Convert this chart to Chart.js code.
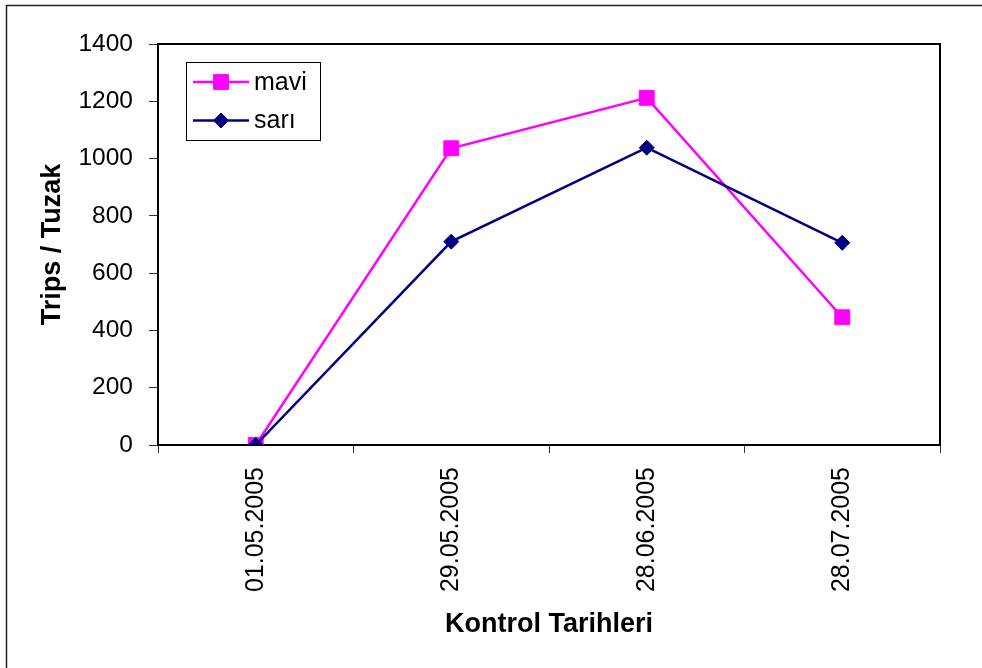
<!DOCTYPE html>
<html>
<head>
<meta charset="utf-8">
<script src="https://cdn.jsdelivr.net/npm/chart.js@4.4.0/dist/chart.umd.min.js"></script>
<style>
  html, body { margin: 0; padding: 0; background: #fff; }
  canvas { display: block; }
</style>
</head>
<body>
<canvas id="chart" width="982" height="668"></canvas>
<script>
// Trap counts per control date
const dates = ['01.05.2005', '29.05.2005', '28.06.2005', '28.07.2005'];
const maviValues = [0, 1036, 1212, 446];
const sariValues = [0, 710, 1038, 706];
const seriesNames = ['mavi', 'sarı'];
const yMin = 0;
const yMax = 1400;
const yStep = 200;

const FONT = "'Liberation Sans', Arial, sans-serif";

// Outer frame, plot box top/right edges and the legend box
const framePlugin = {
  id: 'frame',
  beforeDraw(chart) {
    const ctx = chart.ctx;
    ctx.save();
    ctx.fillStyle = '#fff';
    ctx.fillRect(0, 0, chart.width, chart.height);
    ctx.restore();
  },
  afterDraw(chart) {
    const ctx = chart.ctx;
    const a = chart.chartArea;
    ctx.save();
    // outer frame (top and left edges)
    ctx.strokeStyle = '#222';
    ctx.lineWidth = 1.5;
    ctx.beginPath();
    ctx.moveTo(6.5, chart.height);
    ctx.lineTo(6.5, 5.5);
    ctx.lineTo(chart.width, 5.5);
    ctx.stroke();
    // plot box top and right edges
    ctx.strokeStyle = '#000';
    ctx.lineWidth = 2;
    ctx.beginPath();
    ctx.moveTo(a.left, a.top);
    ctx.lineTo(a.right, a.top);
    ctx.lineTo(a.right, a.bottom);
    ctx.stroke();

    // legend
    const bx = 186.5, by = 62.5, bw = 134, bh = 78;
    ctx.lineWidth = 1;
    ctx.strokeStyle = '#000';
    ctx.fillStyle = '#fff';
    ctx.fillRect(bx, by, bw, bh);
    ctx.strokeRect(bx, by, bw, bh);
    chart.data.datasets.forEach((ds, i) => {
      const y = 82 + i * 38.5;
      ctx.strokeStyle = ds.borderColor;
      ctx.lineWidth = ds.borderWidth;
      ctx.beginPath();
      ctx.moveTo(193, y);
      ctx.lineTo(249, y);
      ctx.stroke();
      ctx.fillStyle = ds.pointBackgroundColor;
      ctx.strokeStyle = ds.pointBorderColor;
      ctx.lineWidth = ds.pointBorderWidth;
      Chart.helpers.drawPoint(ctx, {
        pointStyle: ds.pointStyle,
        radius: ds.pointRadius,
        borderWidth: ds.pointBorderWidth,
        rotation: 0
      }, 221, y);
      ctx.fillStyle = '#000';
      ctx.font = '25px ' + FONT;
      ctx.textBaseline = 'middle';
      ctx.textAlign = 'left';
      ctx.fillText(ds.label, 254, y + 1);
    });
    ctx.restore();
  }
};

new Chart(document.getElementById('chart'), {
  type: 'line',
  data: {
    labels: dates,
    datasets: [
      {
        label: seriesNames[0],
        data: maviValues,
        borderColor: '#FF00FF',
        backgroundColor: '#FF00FF',
        borderWidth: 2.5,
        pointStyle: 'rect',
        pointRadius: 10.5,
        pointBackgroundColor: '#FF00FF',
        pointBorderColor: '#FF00FF',
        pointBorderWidth: 1,
        tension: 0,
        order: 1
      },
      {
        label: seriesNames[1],
        data: sariValues,
        borderColor: '#000080',
        backgroundColor: '#000080',
        borderWidth: 2.5,
        pointStyle: 'rectRot',
        pointRadius: 7.5,
        pointBackgroundColor: '#000080',
        pointBorderColor: '#000080',
        pointBorderWidth: 1,
        tension: 0,
        order: 0
      }
    ]
  },
  options: {
    responsive: false,
    animation: false,
    devicePixelRatio: 1,
    layout: { padding: { left: 0, top: 44, right: 42, bottom: 0 } },
    plugins: {
      legend: { display: false },
      tooltip: { enabled: false }
    },
    scales: {
      x: {
        type: 'category',
        offset: true,
        afterFit(scale) { scale.height = 223; },
        grid: {
          offset: true,
          drawOnChartArea: false,
          drawTicks: true,
          tickLength: 8,
          color: '#333',
          lineWidth: 1
        },
        border: { display: true, color: '#000', width: 2 },
        ticks: {
          autoSkip: false,
          minRotation: 90,
          maxRotation: 90,
          padding: 14,
          color: '#000',
          font: { family: FONT, size: 25 }
        },
        title: {
          display: true,
          text: 'Kontrol Tarihleri',
          color: '#000',
          font: { family: FONT, size: 27, weight: 'bold' },
          padding: { top: 0, bottom: 27 }
        }
      },
      y: {
        min: yMin,
        max: yMax,
        afterFit(scale) { scale.width = 158; },
        grid: {
          drawOnChartArea: false,
          drawTicks: true,
          tickLength: 9,
          color: '#333',
          lineWidth: 1
        },
        border: { display: true, color: '#000', width: 2 },
        ticks: {
          stepSize: yStep,
          padding: 16,
          color: '#000',
          font: { family: FONT, size: 24.5 },
          callback: (v) => String(v)
        },
        title: {
          display: true,
          text: 'Trips / Tuzak',
          color: '#000',
          font: { family: FONT, size: 27, weight: 'bold' },
          padding: { top: 36, bottom: 0 }
        }
      }
    }
  },
  plugins: [framePlugin]
});
</script>
</body>
</html>
